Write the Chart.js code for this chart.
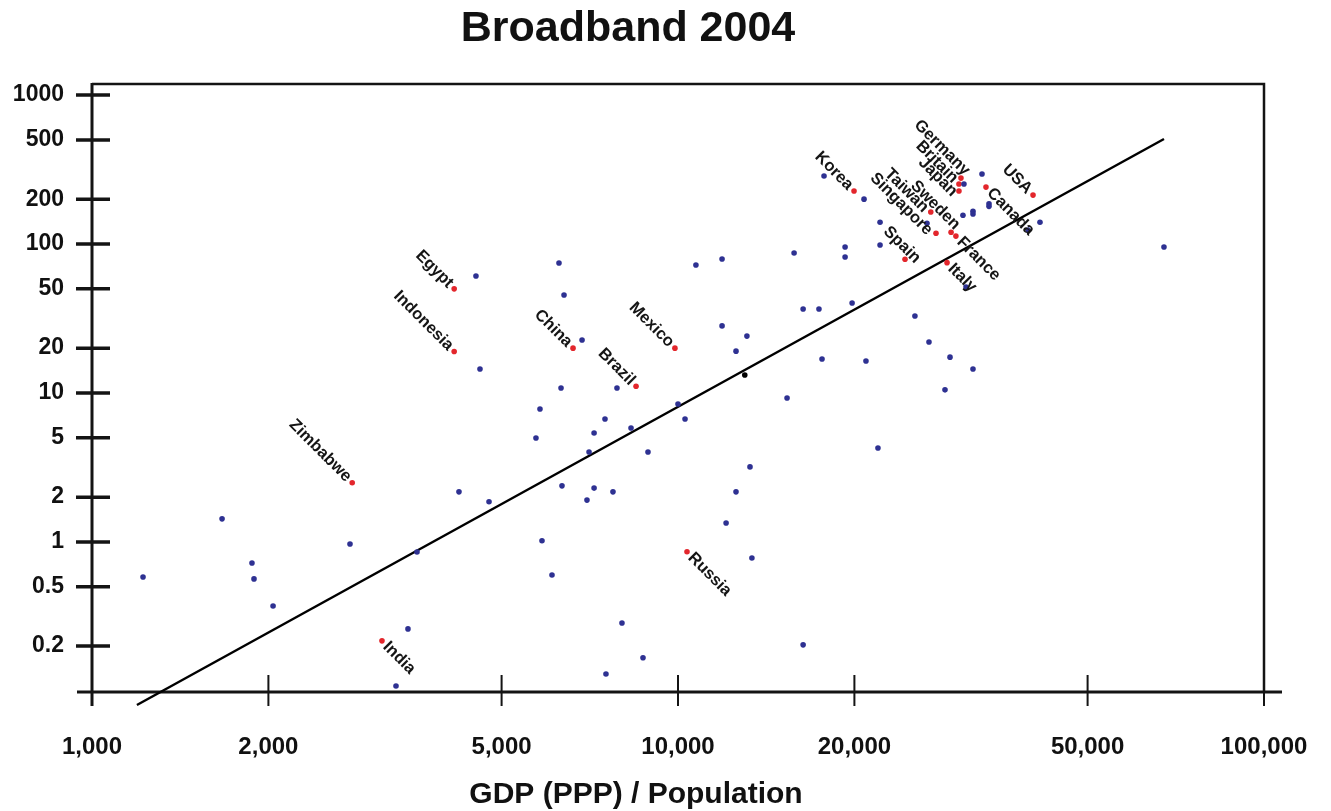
<!DOCTYPE html>
<html>
<head>
<meta charset="utf-8">
<title>Broadband 2004</title>
<script src="https://cdn.jsdelivr.net/npm/chart.js@4.4.1/dist/chart.umd.min.js"></script>
<style>
  html, body { margin: 0; padding: 0; background: #fff; }
</style>
</head>
<body>
<canvas id="chart" width="1331" height="811"></canvas>
<script>
// broadband per 1000 people against GDP (PPP) per head, 2004
const countries = ['Egypt', 'Indonesia', 'Zimbabwe', 'China', 'Mexico', 'Brazil', 'Russia', 'India',
    'Korea', 'Spain', 'Italy', 'Taiwan', 'Singapore', 'Sweden', 'France', 'Germany', 'Britain',
    'Japan', 'Canada', 'USA'];
const countryGdp = [4150, 4150, 2780, 6620, 9880, 8480, 10360, 3125,
    19970, 24400, 28780, 27000, 27560, 29240, 29800, 30400, 30160,
    30160, 33540, 40350];
const countryBroadband = [50, 19, 2.5, 20, 20, 11.1, 0.86, 0.217,
    227, 79, 75, 164, 118, 120, 113, 277, 253,
    227, 241, 213];

const otherGdp = [1667, 2756, 3586, 1875, 1890, 1222, 2037, 3461, 3302,
    4521, 4593, 6265, 6390, 6859, 10730, 11890, 15780, 6315, 7868, 11890, 13110, 12560, 15350,
    5814, 7506, 10000, 10280, 7191, 8314, 5723, 7050, 8888, 13270, 4229, 4759, 6339, 7191, 7745,
    6993, 12560, 12080, 13370, 5860, 6095, 8024, 8715, 7535, 16350,
    16350, 17400, 19820, 25370, 31010, 26810, 29120, 31870, 28550, 17610, 20930, 21940,
    17750, 20770, 22120, 22120, 19280, 19280, 33020, 30760, 33940, 33940, 31870, 31870, 30640,
    26600, 41470, 39570, 67500];
const otherBroadband = [1.43, 0.97, 0.857, 0.723, 0.565, 0.582, 0.372, 0.261, 0.108,
    61, 14.5, 74.6, 45.5, 22.7, 72.3, 79.3, 87, 10.8, 10.8, 28.2, 24.1, 19.1, 9.26,
    7.81, 6.69, 8.44, 6.69, 5.39, 5.82, 4.99, 4.02, 4.02, 3.19, 2.17, 1.86, 2.38, 2.3, 2.17,
    1.91, 2.17, 1.34, 0.781, 1.02, 0.6, 0.286, 0.167, 0.13, 0.204,
    36.6, 36.6, 40.2, 32.9, 51.4, 22, 17.4, 14.5, 10.5, 16.9, 16.4, 4.27,
    286, 200, 140, 98.5, 95.5, 81.8, 295, 253, 186, 179, 166, 159, 156,
    138, 140, 124, 95.5];

const markedGdp = [13000];
const markedBroadband = [13.2];

// fitted trend line end points
const fitGdp = [1193, 67500];
const fitBroadband = [0.0805, 507];

const gdpTicks = [1000, 2000, 5000, 10000, 20000, 50000, 100000];
const broadbandTicks = [0.2, 0.5, 1, 2, 5, 10, 20, 50, 100, 200, 500, 1000];

// label placement: these names sit after their dot instead of before it
const labelAfter = ['Canada', 'France', 'Italy', 'Russia', 'India'];
// [along, across] shifts in the turned text frame, to pull crowded names apart
const labelNudge = {
    Germany: [6, -8],
    Sweden: [6, -8],
    Spain: [15, -8],
    Japan: [4, 5],
    Taiwan: [0, 2],
    Singapore: [0, 4]
};

function toPoints(xs, ys) {
    return xs.map((x, i) => ({ x: x, y: ys[i] }));
}

function withCommas(v) {
    return String(v).replace(/\B(?=(\d{3})+(?!\d))/g, ',');
}

const FONT = '"Liberation Sans", Arial, Helvetica, sans-serif';

const axesPlugin = {
    id: 'axes',
    beforeDatasetsDraw(chart) {
        const { ctx, chartArea: a, scales: { x, y } } = chart;
        ctx.save();
        ctx.strokeStyle = '#141414';

        // frame top and right
        ctx.lineWidth = 2.5;
        ctx.beginPath();
        ctx.moveTo(a.left, a.top);
        ctx.lineTo(a.right, a.top);
        ctx.lineTo(a.right, a.bottom);
        ctx.stroke();

        // axis lines run a little past the corner
        ctx.lineWidth = 3;
        ctx.beginPath();
        ctx.moveTo(a.left, a.top - 1);
        ctx.lineTo(a.left, a.bottom + 14);
        ctx.moveTo(a.left - 15, a.bottom);
        ctx.lineTo(a.right + 18, a.bottom);
        ctx.stroke();

        // y ticks cross the axis
        ctx.lineWidth = 3.5;
        ctx.beginPath();
        y.ticks.forEach(t => {
            const py = y.getPixelForValue(t.value);
            ctx.moveTo(a.left - 16, py);
            ctx.lineTo(a.left + 18, py);
        });
        ctx.stroke();

        ctx.lineWidth = 2;
        ctx.beginPath();
        x.ticks.forEach(t => {
            const px = x.getPixelForValue(t.value);
            ctx.moveTo(px, a.bottom - 17);
            ctx.lineTo(px, a.bottom + 14);
        });
        ctx.stroke();
        ctx.restore();
    },
    afterDatasetsDraw(chart) {
        // country names, turned 45 degrees
        const ctx = chart.ctx;
        const meta = chart.getDatasetMeta(2);
        ctx.save();
        ctx.font = 'bold 16.5px ' + FONT;
        ctx.fillStyle = '#151515';
        ctx.textBaseline = 'middle';
        meta.data.forEach((pt, i) => {
            const name = countries[i];
            const nudge = labelNudge[name] || [0, 0];
            ctx.save();
            ctx.translate(pt.x, pt.y);
            ctx.rotate(Math.PI / 4);
            if (labelAfter.includes(name)) {
                ctx.textAlign = 'left';
                ctx.fillText(name, 5 + nudge[0], nudge[1]);
            } else {
                ctx.textAlign = 'right';
                ctx.fillText(name, -5 + nudge[0], nudge[1]);
            }
            ctx.restore();
        });
        ctx.restore();
    },
    afterDraw(chart) {
        const ctx = chart.ctx;
        ctx.save();
        ctx.fillStyle = '#111';
        ctx.textAlign = 'center';
        ctx.textBaseline = 'alphabetic';
        ctx.font = 'bold 43px ' + FONT;
        ctx.fillText('Broadband 2004', 628, 41);
        ctx.font = 'bold 30px ' + FONT;
        ctx.fillText('GDP (PPP) / Population', 636, 803);
        ctx.restore();
    }
};

new Chart(document.getElementById('chart'), {
    type: 'scatter',
    data: {
        datasets: [{
            label: 'Trend',
            data: toPoints(fitGdp, fitBroadband),
            showLine: true,
            borderColor: '#000',
            borderWidth: 2.5,
            pointRadius: 0,
            clip: { left: 0, top: 0, right: 0, bottom: 16 },
            order: 3
        }, {
            label: 'Others',
            data: toPoints(otherGdp, otherBroadband),
            backgroundColor: '#2e3192',
            borderWidth: 0,
            pointRadius: 2.8,
            order: 1
        }, {
            label: 'Named',
            data: toPoints(countryGdp, countryBroadband),
            backgroundColor: '#e3262c',
            borderWidth: 0,
            pointRadius: 2.8,
            order: 1
        }, {
            label: 'Marked',
            data: toPoints(markedGdp, markedBroadband),
            backgroundColor: '#000',
            borderWidth: 0,
            pointRadius: 2.8,
            order: 1
        }]
    },
    options: {
        responsive: false,
        animation: false,
        devicePixelRatio: 1,
        layout: { padding: { top: 84, right: 67, bottom: 0, left: 0 } },
        plugins: {
            legend: { display: false },
            tooltip: { enabled: false },
            title: { display: false }
        },
        scales: {
            x: {
                type: 'logarithmic',
                min: 1000,
                max: 100000,
                grid: { display: false, drawTicks: false },
                border: { display: false },
                afterBuildTicks: s => { s.ticks = gdpTicks.map(v => ({ value: v })); },
                afterFit: s => {
                    s.height = 119;
                    s.paddingLeft = 0;
                    s.paddingRight = 0;
                },
                ticks: {
                    padding: 41,
                    autoSkip: false,
                    maxRotation: 0,
                    color: '#111',
                    font: { family: FONT, size: 24, weight: 'bold' },
                    callback: v => withCommas(v)
                }
            },
            y: {
                type: 'logarithmic',
                min: 0.0984,
                max: 1186,
                grid: { display: false, drawTicks: false },
                border: { display: false },
                afterBuildTicks: s => { s.ticks = broadbandTicks.map(v => ({ value: v })); },
                afterFit: s => {
                    s.width = 92;
                    s.paddingTop = 0;
                    s.paddingBottom = 0;
                },
                ticks: {
                    padding: 28,
                    autoSkip: false,
                    color: '#111',
                    font: { family: FONT, size: 23, weight: 'bold' },
                    callback: v => String(v)
                }
            }
        }
    },
    plugins: [axesPlugin]
});
</script>
</body>
</html>
